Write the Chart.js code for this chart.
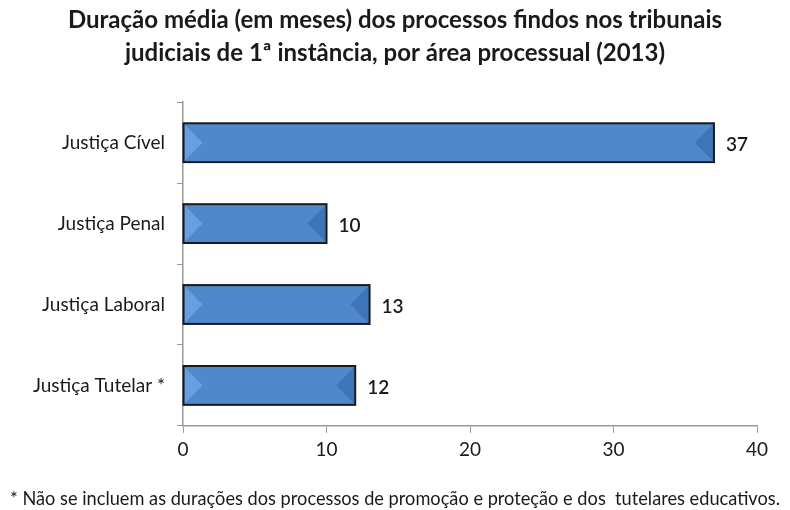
<!DOCTYPE html>
<html lang="pt">
<head>
<meta charset="UTF-8">
<title>Duração média dos processos findos</title>
<script src="https://cdn.jsdelivr.net/npm/chart.js"></script>
<style>
  html, body { margin: 0; padding: 0; background: #fff; }
  #wrap { width: 790px; height: 510px; }
</style>
</head>
<body>
<div id="wrap"><canvas id="grafico" width="790" height="510"></canvas></div>
<script>
// Categorias e valores (meses)
const areas = ['Justiça Cível', 'Justiça Penal', 'Justiça Laboral', 'Justiça Tutelar *'];
const duracao = [37, 10, 13, 12];
const ticksX = [0, 10, 20, 30, 40];

const FONTE = 'Lato, "Open Sans", sans-serif';

// Gradiente vertical de cada barra
function corBarra(ctx) {
  const el = ctx.element;
  const c = ctx.chart.ctx;
  if (!el || el.y === undefined || !isFinite(el.y)) return '#4f88cc';
  const h = el.height || 38;
  const top = el.y - h / 2;
  const g = c.createLinearGradient(0, top, 0, top + h);
  g.addColorStop(0, '#5b96d8');
  g.addColorStop(0.4, '#4e88cd');
  g.addColorStop(1, '#74b0f0');
  return g;
}

// Efeito de chanfro nas pontas e etiquetas de valor
const chanfro = {
  id: 'chanfro',
  afterDatasetsDraw(chart) {
    const c = chart.ctx;
    const meta = chart.getDatasetMeta(0);
    meta.data.forEach((bar, i) => {
      const p = bar.getProps(['x', 'y', 'base', 'height'], true);
      const top = p.y - p.height / 2, bot = p.y + p.height / 2;
      const x0 = p.base + 1, x1 = p.x - 1, d = 18;
      c.save();
      // lado esquerdo (claro)
      c.fillStyle = 'rgba(120,175,235,0.6)';
      c.beginPath();
      c.moveTo(x0, top + 1); c.lineTo(x0 + d, p.y); c.lineTo(x0, bot - 1);
      c.closePath(); c.fill();
      // lado direito (escuro)
      c.fillStyle = 'rgba(45,95,155,0.45)';
      c.beginPath();
      c.moveTo(x1, top + 1); c.lineTo(x1 - d, p.y); c.lineTo(x1, bot - 1);
      c.closePath(); c.fill();
      // contorno
      c.strokeStyle = '#1a1a1a';
      c.lineWidth = 2;
      c.strokeRect(p.base, top, p.x - p.base, p.height);
      // valor
      c.fillStyle = '#1a1a1a';
      c.font = '600 19px ' + FONTE;
      c.textBaseline = 'middle';
      c.fillText(String(duracao[i]), p.x + 12, p.y + 2);
      c.restore();
    });
  }
};

new Chart(document.getElementById('grafico'), {
  type: 'bar',
  data: {
    labels: areas,
    datasets: [{
      data: duracao,
      backgroundColor: corBarra,
      borderWidth: 0,
      barPercentage: 0.48,
      categoryPercentage: 1
    }]
  },
  options: {
    indexAxis: 'y',
    responsive: false,
    animation: false,
    layout: { padding: { left: 10, right: 10, top: 0, bottom: 0 } },
    plugins: {
      legend: { display: false },
      tooltip: { enabled: false },
      title: {
        display: true,
        text: ['Duração média (em meses) dos processos findos nos tribunais',
               'judiciais de 1ª instância, por área processual (2013)'],
        color: '#1a1a1a',
        font: { family: FONTE, size: 24, weight: 'bold', lineHeight: 1.38 },
        padding: { top: 4, bottom: 32 }
      },
      subtitle: {
        display: true,
        position: 'bottom',
        align: 'start',
        text: '* Não se incluem as durações dos processos de promoção e proteção e dos  tutelares educativos.',
        color: '#1a1a1a',
        font: { family: FONTE, size: 18.6 },
        padding: { top: 20, bottom: 0 }
      }
    },
    scales: {
      x: {
        min: 0,
        max: 40,
        afterBuildTicks(axis) { axis.ticks = ticksX.map(v => ({ value: v })); },
        grid: { drawOnChartArea: false, color: '#999', tickLength: 7 },
        border: { color: '#999', width: 1.5 },
        ticks: { color: '#1a1a1a', font: { family: FONTE, size: 19 }, padding: 6 }
      },
      y: {
        afterFit(axis) { axis.width = 173; },
        grid: { drawOnChartArea: false, offset: true, color: '#999', tickLength: 6 },
        border: { color: '#999', width: 1.5 },
        ticks: { color: '#1a1a1a', font: { family: FONTE, size: 19 }, padding: 12 }
      },
      // eixo vazio à direita, só para reservar margem
      margemDir: {
        type: 'linear',
        position: 'right',
        afterFit(axis) { axis.width = 23; },
        grid: { display: false },
        border: { display: false },
        ticks: { display: false }
      }
    }
  },
  plugins: [chanfro]
});
</script>
</body>
</html>
